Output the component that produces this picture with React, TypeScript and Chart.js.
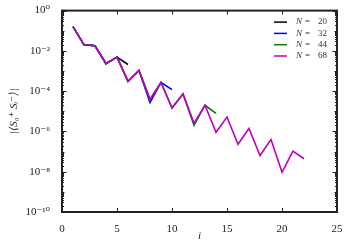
import React, { useEffect, useRef } from 'react';
import { Chart, registerables } from 'chart.js';
Chart.register(...registerables);

const seriesLabels = ['20', '32', '44', '68'];
const seriesColors = ['#000000', '#0000ff', '#008000', '#bf00bf'];

const sites20 = [1, 2, 3, 4, 5, 6];
const values20 = [0.16, 0.02, 0.018, 0.0023, 0.0049, 2.1e-3];

const sites32 = [1, 2, 3, 4, 5, 6, 7, 8, 9, 10];
const values32 = [0.16, 0.02, 0.018, 0.0023, 0.0049, 3.1e-4, 1.07e-3, 2.7e-5, 2.7e-4, 1.2e-4];

const sites44 = [1, 2, 3, 4, 5, 6, 7, 8, 9, 10, 11, 12, 13, 14];
const values44 = [0.16, 0.02, 0.018, 0.0023, 0.0049, 3.1e-4, 1.07e-3, 3.9e-5, 2.7e-4, 1.45e-5, 7.3e-5, 2.0e-6, 2.0e-5, 7.9e-6];

const sites68 = [1, 2, 3, 4, 5, 6, 7, 8, 9, 10, 11, 12, 13, 14, 15, 16, 17, 18, 19, 20, 21, 22];
const values68 = [0.16, 0.02, 0.018, 0.0023, 0.0049, 3.1e-4, 1.07e-3, 3.9e-5, 2.7e-4, 1.45e-5, 7.3e-5, 2.6e-6, 2.0e-5, 9.1e-7, 5.2e-6, 2.3e-7, 1.4e-6, 6.4e-8, 4e-7, 9.5e-9, 1.05e-7, 4.4e-8];

const xTicks = [0, 5, 10, 15, 20, 25];
const yTickExponents = [-10, -8, -6, -4, -2, 0];

const SUP: Record<string, string> = { '0': '⁰', '1': '¹', '2': '²', '3': '³', '4': '⁴', '5': '⁵', '6': '⁶', '7': '⁷', '8': '⁸', '9': '⁹', '-': '⁻' };
const sup = (n: number) => String(n).split('').map((c) => SUP[c] || c).join('');

const SERIF = '"Liberation Serif", "DejaVu Serif", serif';

const framePlugin = {
  id: 'frame',
  afterDraw(chart: any) {
    const ctx = chart.ctx;
    const { left, right, top, bottom } = chart.chartArea;
    const xs = chart.scales.x;
    const ys = chart.scales.y;
    ctx.save();
    ctx.strokeStyle = '#222';
    ctx.lineWidth = 1;
    ctx.beginPath();
    for (const t of xTicks) {
      const px = Math.round(xs.getPixelForValue(t)) + 0.5;
      ctx.moveTo(px, bottom);
      ctx.lineTo(px, bottom - 4);
      ctx.moveTo(px, top);
      ctx.lineTo(px, top + 4);
    }
    for (let e = -10; e <= 0; e++) {
      const major = e % 2 === 0;
      const py = Math.round(ys.getPixelForValue(Math.pow(10, e))) + 0.5;
      const len = major ? 4.5 : 2.5;
      ctx.moveTo(left, py);
      ctx.lineTo(left + len, py);
      ctx.moveTo(right, py);
      ctx.lineTo(right - len, py);
      if (e < 0) {
        for (let s = 2; s <= 9; s++) {
          const qy = Math.round(ys.getPixelForValue(s * Math.pow(10, e))) + 0.5;
          ctx.moveTo(left, qy);
          ctx.lineTo(left + 2, qy);
          ctx.moveTo(right, qy);
          ctx.lineTo(right - 2, qy);
        }
      }
    }
    ctx.stroke();
    ctx.lineWidth = 2;
    ctx.strokeStyle = '#222';
    ctx.strokeRect(left, top, right - left, bottom - top);

    // legend
    const ds = chart.data.datasets;
    ctx.textBaseline = 'middle';
    ds.forEach((d: any, k: number) => {
      const y = top + 11.5 + 11.3 * k;
      ctx.strokeStyle = d.borderColor;
      ctx.lineWidth = 1.5;
      ctx.beginPath();
      ctx.moveTo(right - 63, y);
      ctx.lineTo(right - 50, y);
      ctx.stroke();
      ctx.fillStyle = '#333';
      ctx.textAlign = 'left';
      ctx.font = `italic 9px ${SERIF}`;
      ctx.fillText('N', right - 41, y);
      ctx.font = `9px ${SERIF}`;
      ctx.fillText('=', right - 32, y);
      ctx.fillText(d.label, right - 19, y);
    });
    ctx.restore();
  },
};

export default function App() {
  const ref = useRef<HTMLCanvasElement>(null);
  useEffect(() => {
    if (!ref.current) return;
    const mk = (sites: number[], vals: number[], i: number) => ({
      label: seriesLabels[i],
      data: sites.map((x, j) => ({ x, y: vals[j] })),
      borderColor: seriesColors[i],
      backgroundColor: seriesColors[i],
      borderWidth: 1.6,
      pointRadius: 0,
      tension: 0,
      fill: false,
      order: 4 - i,
    });
    const chart = new Chart(ref.current, {
      type: 'line',
      data: {
        datasets: [
          mk(sites20, values20, 0),
          mk(sites32, values32, 1),
          mk(sites44, values44, 2),
          mk(sites68, values68, 3),
        ],
      },
      options: {
        animation: false,
        responsive: false,
        layout: { padding: { top: 10, right: 13, left: 0, bottom: 0 } },
        plugins: { legend: { display: false }, tooltip: { enabled: false } },
        scales: {
          x: {
            type: 'linear',
            min: 0,
            max: 25,
            grid: { display: false },
            border: { display: false },
            afterBuildTicks: (s: any) => {
              s.ticks = xTicks.map((v) => ({ value: v }));
            },
            afterFit: (s: any) => {
              s.height = 38;
            },
            ticks: {
              padding: 3,
              color: '#222',
              font: { family: SERIF, size: 11 },
              maxRotation: 0,
              callback: (v: any) => String(v),
            },
            title: {
              display: true,
              text: 'i',
              color: '#222',
              font: { family: SERIF, size: 11, style: 'italic' },
              padding: { top: 0, bottom: 7 },
            },
          },
          y: {
            type: 'logarithmic',
            min: 1e-10,
            max: 1,
            grid: { display: false },
            border: { display: false },
            afterBuildTicks: (s: any) => {
              s.ticks = yTickExponents.map((e) => ({ value: Math.pow(10, e) }));
            },
            afterFit: (s: any) => {
              s.width = 62;
            },
            ticks: {
              padding: 4,
              color: '#222',
              font: { family: SERIF, size: 11 },
              callback: (v: any) => '10' + sup(Math.round(Math.log10(v))),
            },
            title: {
              display: true,
              text: '|⟨S₀⁺ Sᵢ⁻⟩|',
              color: '#222',
              font: { family: SERIF, size: 11, style: 'italic' },
              padding: { top: 8, bottom: 0 },
            },
          },
        },
      },
      plugins: [framePlugin],
    });
    return () => chart.destroy();
  }, []);
  return (
    <div style={{ position: 'fixed', left: 0, top: 0, width: 350, height: 250, background: '#fff' }}>
      <canvas ref={ref} width={350} height={250} />
    </div>
  );
}
